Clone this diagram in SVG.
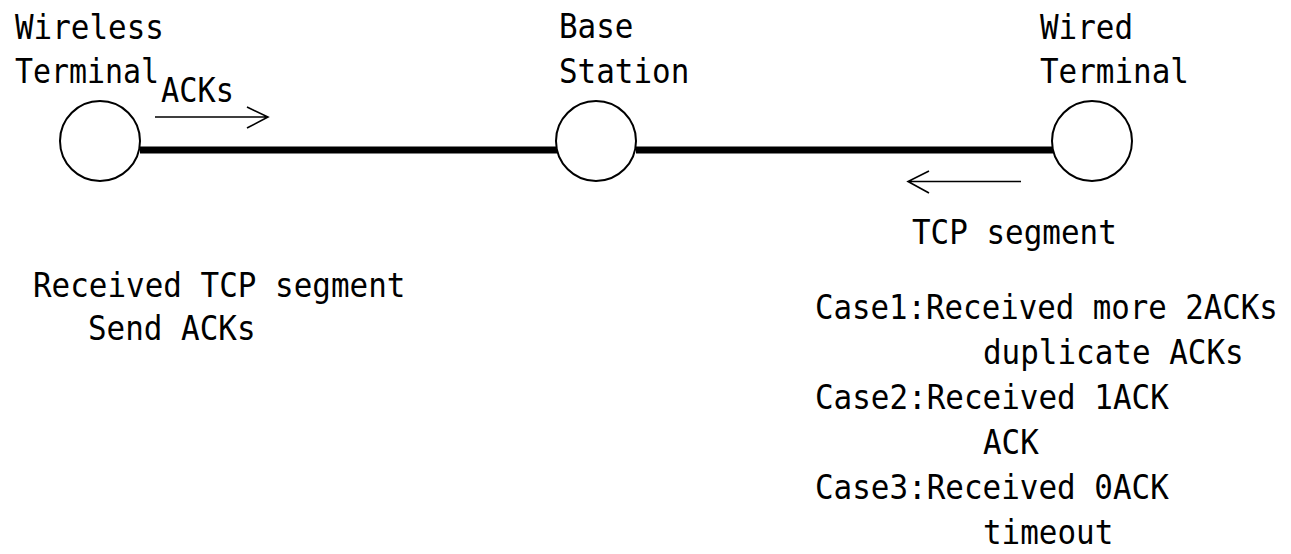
<svg xmlns="http://www.w3.org/2000/svg" width="1291" height="554" viewBox="0 0 1291 554">
<style>
text{font-family:"DejaVu Sans Mono","Liberation Mono",monospace;font-size:34px;fill:#000}
.node{fill:#fff;stroke:#000;stroke-width:2}
.link{stroke:#000;stroke-width:7;fill:none}
.arrow{stroke:#000;stroke-width:1.6;fill:none}
</style>
<rect width="1291" height="554" fill="#fff"/>
<g id="connectors">
<line class="link" x1="140" y1="150" x2="557" y2="150"/>
<line class="link" x1="636" y1="150" x2="1053" y2="150"/>
<path class="arrow" d="M155 117H268M247 107L268 117L247 128"/>
<path class="arrow" d="M1021 181.5H908M929 171L908 181.5L929 193"/>
</g>
<g id="wireless-terminal">
<circle class="node" cx="100" cy="141" r="40"/>
<text transform="translate(15,39) scale(0.91,1)">Wireless</text>
<text transform="translate(15,83) scale(0.88,1)">Terminal</text>
</g>
<g id="base-station">
<circle class="node" cx="596" cy="141" r="40"/>
<text transform="translate(559,38) scale(0.91,1)">Base</text>
<text transform="translate(559,83) scale(0.91,1)">Station</text>
</g>
<g id="wired-terminal">
<circle class="node" cx="1092" cy="141" r="40"/>
<text transform="translate(1040,39) scale(0.91,1)">Wired</text>
<text transform="translate(1040,83) scale(0.91,1)">Terminal</text>
</g>
<g id="labels">
<text transform="translate(161,102) scale(0.89,1)">ACKs</text>
<text transform="translate(912,244) scale(0.91,1)">TCP segment</text>
<text transform="translate(33,297) scale(0.91,1)">Received TCP segment</text>
<text transform="translate(88,340) scale(0.91,1)">Send ACKs</text>
<text transform="translate(815,319) scale(0.905,1)">Case1:Received more 2ACKs</text>
<text transform="translate(983,364) scale(0.91,1)">duplicate ACKs</text>
<text transform="translate(815,409) scale(0.91,1)">Case2:Received 1ACK</text>
<text transform="translate(983,454) scale(0.91,1)">ACK</text>
<text transform="translate(815,499) scale(0.91,1)">Case3:Received 0ACK</text>
<text transform="translate(983,544) scale(0.91,1)">timeout</text>
</g>
</svg>
